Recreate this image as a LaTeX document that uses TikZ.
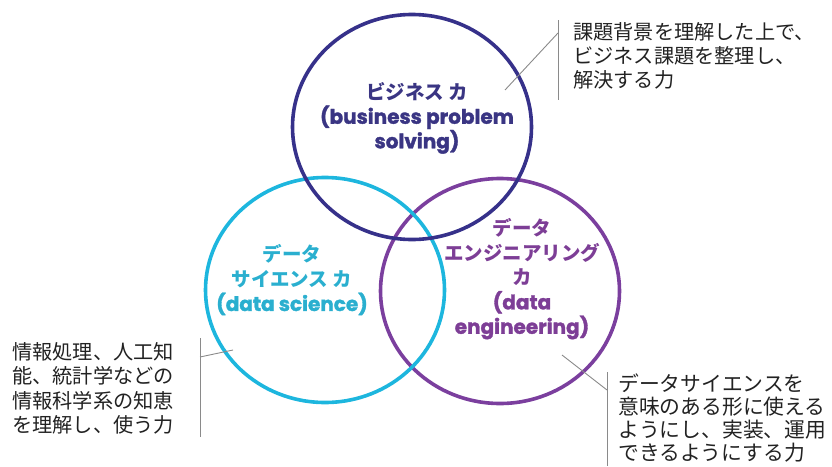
\documentclass[tikz,border=0pt]{standalone}
\usepackage{fontspec}
\setmainfont{Noto Sans CJK JP}
\newfontfamily\latinb[FakeBold=1.6]{Poppins}
\newcommand{\lat}[1]{{\latinb\fontsize{20}{24.5}\selectfont #1}}
\usetikzlibrary{shapes.geometric}
\definecolor{navy}{HTML}{36318A}
\definecolor{navytext}{HTML}{3A3583}
\definecolor{cyanc}{HTML}{1DB6DE}
\definecolor{cyantext}{HTML}{2AAFCF}
\definecolor{purp}{HTML}{7B3F9E}
\definecolor{purptext}{HTML}{7D3E96}
\definecolor{leader}{HTML}{8A8A8A}
\definecolor{note}{HTML}{222222}
\tikzset{
  ring/.style={ellipse, line width=3.6pt, minimum width=239pt, minimum height=225pt, inner sep=0pt},
  ringlabel/.style={align=center, font=\fontsize{19.5}{24.5}\selectfont\bfseries, inner sep=0pt},
  notetext/.style={align=left, text=note, inner sep=0pt, anchor=west},
  leaderline/.style={draw=leader, line width=0.9pt}
}
\begin{document}
\begin{tikzpicture}[x=1pt,y=-1pt]
\useasboundingbox (0,0) rectangle (832,466);
% circles
\node[ring, draw=purp] (eng) at (500,291) {};
\node[ring, draw=cyanc] (sci) at (325,290) {};
\node[ring, draw=navy] (biz) at (412,127) {};
% circle labels
\node[ringlabel, text=navytext] (bizlab) at (417,118) {ビジネス カ\\\lat{(business problem}\\\lat{solving)}};
\node[ringlabel, text=cyantext] (scilab) at (292,280) {データ\\サイエンス カ\\\lat{(data science)}};
\node[ringlabel, text=purptext] (englab) at (522,279) {データ\\エンジニアリング\\カ\\\lat{(data}\\\lat{engineering)}};
% annotations
\node[notetext, font=\fontsize{20.2}{24}\selectfont] (note1) at (573,56) {課題背景を理解した上で、\\ビジネス課題を整理し、\\解決する力};
\node[notetext, font=\fontsize{20.2}{24.4}\selectfont] (note2) at (12,388.5) {情報処理、人工知\\能、統計学などの\\情報科学系の知恵\\を理解し、使う力};
\node[notetext, font=\fontsize{20.8}{23}\selectfont] (note3) at (618,418) {データサイエンスを\\意味のある形に使える\\ようにし、実装、運用\\できるようにする力};
% leader lines
\coordinate (b1t) at (558,20);
\coordinate (b1b) at (558,100);
\coordinate (b1k) at (558,33);
\coordinate (b1e) at (505,90);
\draw[leaderline] (b1t) -- (b1b);
\draw[leaderline] (b1k) -- (b1e);
\coordinate (b2t) at (200,338);
\coordinate (b2b) at (200,437);
\coordinate (b2k) at (200,357);
\coordinate (b2e) at (233,350);
\draw[leaderline] (b2t) -- (b2b);
\draw[leaderline] (b2k) -- (b2e);
\coordinate (b3t) at (607,372);
\coordinate (b3b) at (607,466);
\coordinate (b3k) at (607,390);
\coordinate (b3e) at (562,355);
\draw[leaderline] (b3t) -- (b3b);
\draw[leaderline] (b3k) -- (b3e);
\end{tikzpicture}
\end{document}
